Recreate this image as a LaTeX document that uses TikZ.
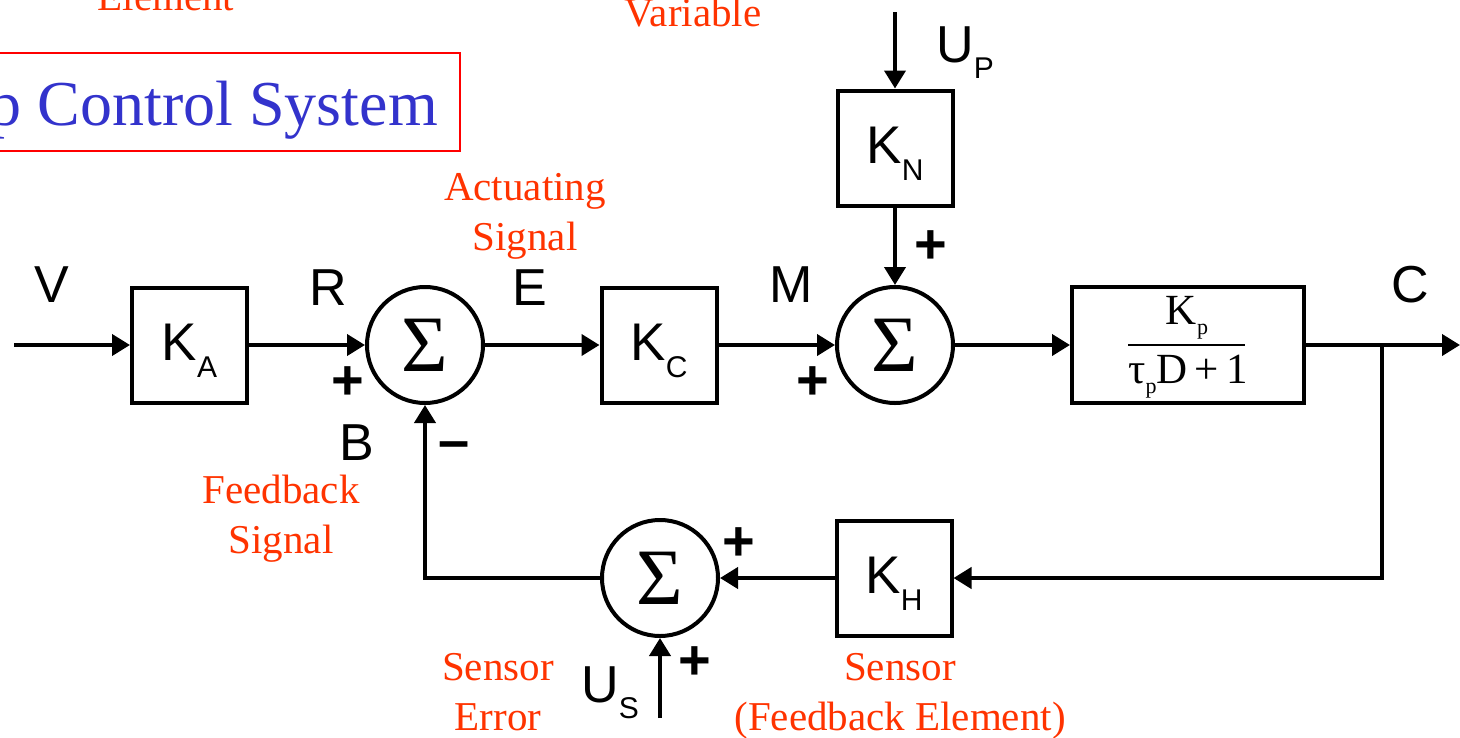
\documentclass[tikz,border=0pt]{standalone}
\usepackage{fontspec}
\setmainfont{Liberation Serif}
\newfontfamily\arialf{Liberation Sans}
\usetikzlibrary{arrows.meta}
\definecolor{lblred}{RGB}{255,51,0}
\definecolor{ttlblue}{RGB}{51,51,204}
\newcommand\lowsub[2]{\raisebox{-#1}{\fontsize{30}{30}\selectfont #2}}
\newcommand\tfsub[1]{\raisebox{-10pt}{\fontsize{22}{22}\selectfont #1}}
\begin{document}
\begin{tikzpicture}[x=1pt,y=-1pt,
  wire/.style={line width=4pt},
  arr/.style={wire,-{Triangle[length=18pt,width=21pt]}},
  blk/.style={draw,line width=4pt,minimum width=115pt,minimum height=115pt,inner sep=0pt,
    font=\arialf\fontsize{53}{53}\selectfont,text height=38pt,text depth=8pt},
  sumj/.style={draw,circle,line width=4pt,minimum size=116pt,inner sep=0pt,
    font=\fontsize{80}{80}\selectfont},
  sig/.style={font=\arialf\fontsize{52}{52}\selectfont,inner sep=0pt,anchor=base},
  sgn/.style={font=\arialf\bfseries\fontsize{56}{56}\selectfont,inner sep=0pt},
  note/.style={font=\fontsize{41}{50}\selectfont,text=lblred,align=center,inner sep=0pt,anchor=base},
  tfx/.style={font=\fontsize{43}{43}\selectfont,inner sep=0pt,anchor=base},
]
\useasboundingbox (0,0) rectangle (1460,737);

% title
\draw[red,line width=2.5pt] (-30,53) rectangle (460,151);
\node[font=\fontsize{64}{64}\selectfont,text=ttlblue,anchor=base east,inner sep=0pt] (ttl) at (438,125) {p Control System};

% blocks
\node[blk] (ka) at (189.5,345) {K\lowsub{17pt}{A}};
\node[sumj] (s1) at (425,345) {Σ};
\node[blk] (kc) at (659,345) {K\lowsub{17pt}{C}};
\node[sumj] (s2) at (895,345) {Σ};
\node[blk] (kn) at (895,148) {K\lowsub{17pt}{N}};
\node[draw,line width=4pt,minimum width=232pt,minimum height=116pt,inner sep=0pt] (tf) at (1188,345) {};
\node[tfx] (tfn) at (1187,324) {K\tfsub{p}};
\node[tfx] (tfd) at (1188,383) {τ\tfsub{p}D\,+\,1};
\draw[line width=2.5pt] ([xshift=-60pt]tf.center) -- ([xshift=57pt]tf.center);
\node[blk] (kh) at (894,578) {K\lowsub{17pt}{H}};
\node[sumj] (s3) at (660,578) {Σ};

% coordinates
\coordinate (vin) at (14,345);
\coordinate (cout) at (1460,345);
\coordinate (cbr) at (1382,345);
\coordinate (upin) at (895,12);
\coordinate (usin) at (660,718);

% connectors
\draw[arr] (vin) -- (ka.west);
\draw[arr] (ka.east) -- (s1.west);
\draw[arr] (s1.east) -- (kc.west);
\draw[arr] (kc.east) -- (s2.west);
\draw[arr] (s2.east) -- (tf.west);
\draw[arr] (tf.east) -- (cout);
\draw[arr] (cbr) |- (kh.east);
\draw[arr] (kh.west) -- (s3.east);
\draw[arr] (s3.west) -| (s1.south);
\draw[arr] (upin) -- (kn.north);
\draw[arr] (kn.south) -- (s2.north);
\draw[arr] (usin) -- (s3.south);

% signal labels
\node[sig] (lv) at (52,302) {V};
\node[sig] (lr) at (328,305) {R};
\node[sig] (le) at (530,305) {E};
\node[sig] (lm) at (791,302) {M};
\node[sig] (lc) at (1410,302) {C};
\node[sig] (lb) at (357,460) {B};
\node[sig,anchor=base west] (lup) at (936,62) {U\lowsub{16pt}{P}};
\node[sig,anchor=base west] (lus) at (581,702) {U\lowsub{16pt}{S}};

% signs
\node[sgn] (p1) at (348,383) {+};
\node[sgn] (p2) at (813,383) {+};
\node[sgn] (p3) at (931,247) {+};
\node[sgn] (p4) at (739,544) {+};
\node[sgn] (p5) at (695,663) {+};
\node[sgn] (m1) at (454,451) {–};

% red notes (base = last line)
\node[note] (nel) at (166,10) {Element};
\node[note] (nva) at (693,26) {Variable};
\node[note] (nac) at (525,250) {Actuating\\Signal};
\node[note] (nfb) at (281,553) {Feedback\\Signal};
\node[note] (nse) at (498,730) {Sensor\\Error};
\node[note] (nsf) at (900,730) {Sensor\\(Feedback Element)};
\end{tikzpicture}
\end{document}
